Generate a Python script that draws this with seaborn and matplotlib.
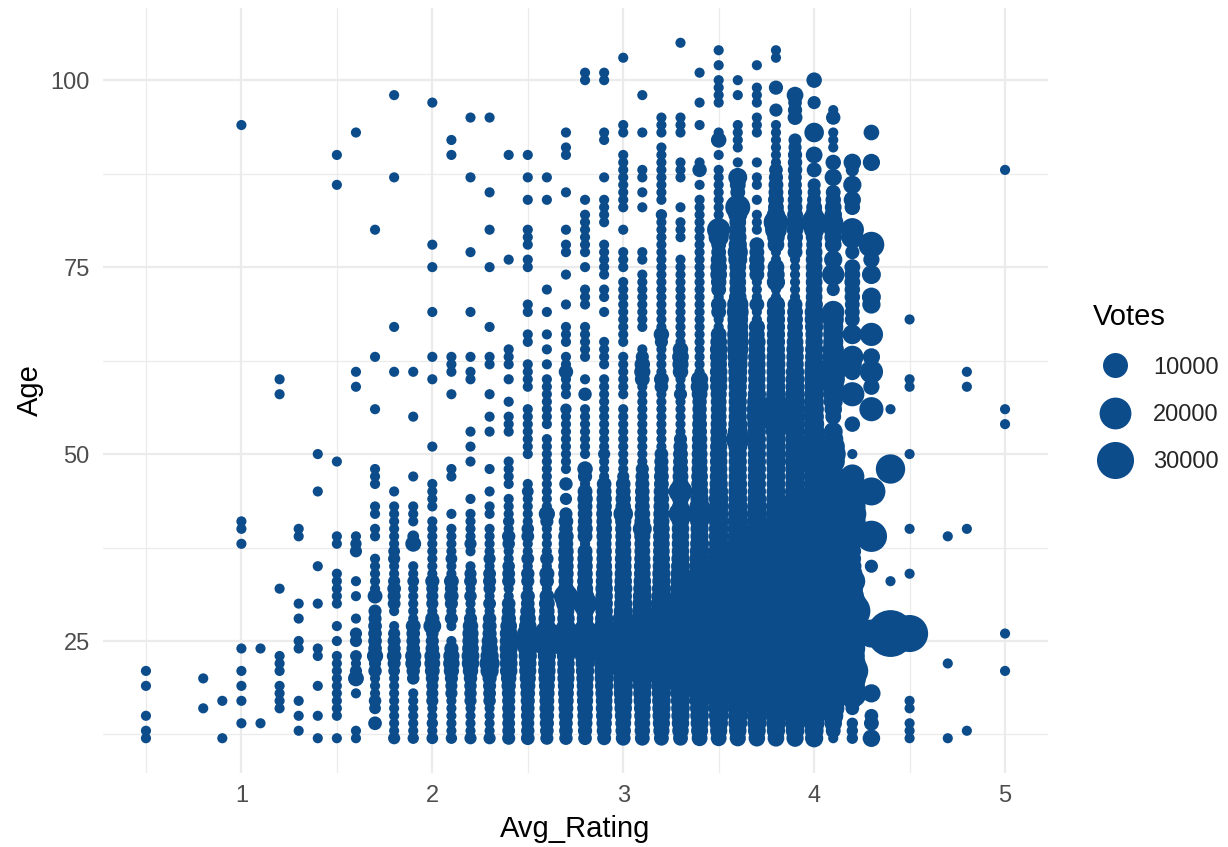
import pandas as pd
import seaborn as sns
from matplotlib import pyplot as plt
from matplotlib.lines import Line2D

# ages seen in each rating column, smallest dots
ages_r05 = [21, 19, 15, 13, 12]
ages_r08 = [20, 16]
ages_r09 = [17, 12]
ages_r10 = [94, 41, 40, 38, 24, 21, 19, 17, 14]
ages_r11 = [24, 14]
ages_r12 = [60, 58, 32, 23, 22, 21, 19, 18, 17, 16]
ages_r13 = [40, 39, 30, 28, 25, 24, 17, 15, 13]
ages_r14 = [50, 45, 35, 30, 24, 23, 19, 15, 12]
ages_r15 = [90, 86, 49, 39, 38, 34, 33, 32, 31, 30, 27, 25, 23, 22, 21, 20, 19, 18, 17, 16, 15, 12]
ages_r16 = [93, 61, 59, 39, 38, 37, 33, 31, 28, 26, 25, 23, 22, 21, 20, 18, 13, 12]
ages_r17 = [80, 63, 56, 48, 47, 46, 43, 42, 40, 39, 36, 35, 34, 33, 32, 31, 29, 28, 27, 26, 25, 24, 23,
            21, 20, 19, 18, 17, 16, 14]
ages_r18 = [98, 87, 67, 61, 45, 43, 42, 41, 40, 39, 38, 37, 36, 35, 34, 33, 32, 31, 30, 29, 27, 26, 25,
            24, 23, 22, 21, 20, 19, 18, 17, 16, 15, 14, 13, 12]
ages_r19 = [61, 55, 47, 43, 42, 41, 39, 38, 35, 34, 33, 32, 31, 30, 29, 28, 27, 26, 25, 24, 23, 22, 21,
            20, 18, 17, 16, 15, 14, 13, 12]
ages_r20 = [97, 78, 75, 69, 63, 60, 51, 46, 45, 44, 43, 41, 40, 39, 38, 37, 36, 35, 34, 33, 32, 31, 30,
            29, 28, 27, 26, 25, 24, 23, 22, 21, 20, 19, 18, 17, 16, 15, 14, 13, 12]
ages_r21 = [92, 90, 63, 62, 61, 58, 48, 47, 42, 40, 39, 38, 37, 36, 35, 34, 33, 32, 31, 30, 29, 28, 27,
            25, 24, 23, 22, 21, 20, 19, 18, 17, 16, 15, 14, 13, 12]
ages_r22 = [95, 87, 77, 69, 63, 61, 60, 53, 51, 49, 44, 42, 41, 40, 39, 38, 37, 35, 34, 33, 32, 31, 30,
            29, 28, 27, 26, 25, 24, 23, 22, 21, 20, 19, 18, 17, 16, 15, 14, 13, 12]
ages_r23 = [95, 85, 80, 75, 67, 63, 62, 58, 55, 53, 48, 45, 43, 42, 40, 39, 38, 37, 36, 35, 34, 33, 32,
            31, 30, 29, 28, 27, 26, 25, 24, 23, 22, 21, 20, 19, 18, 17, 16, 15, 14, 13, 12]
ages_r24 = [90, 76, 64, 63, 62, 60, 57, 55, 54, 53, 49, 48, 47, 46, 44, 43, 42, 41, 40, 39, 38, 37, 36,
            35, 34, 33, 32, 31, 30, 29, 28, 27, 26, 25, 24, 23, 22, 21, 20, 19, 18, 17, 16, 15, 14, 13, 12]
ages_r25 = [90, 87, 84, 80, 79, 78, 76, 75, 70, 69, 66, 65, 62, 61, 60, 59, 56, 55, 54, 53, 52, 51, 50,
            46, 45, 44, 43, 42, 41, 40, 39, 38, 37, 36, 35, 34, 33, 32, 31, 30, 29, 28, 27, 26, 25, 24,
            23, 22, 21, 20, 19, 18, 17, 16, 15, 14, 13, 12]
ages_r26 = [87, 84, 72, 69, 66, 64, 62, 60, 59, 58, 57, 56, 55, 54, 52, 51, 50, 49, 48, 47, 46, 45, 44,
            43, 42, 41, 40, 39, 38, 37, 36, 35, 34, 33, 32, 31, 30, 29, 28, 27, 26, 25, 24, 23, 22, 21,
            20, 19, 18, 17, 16, 15, 14, 13, 12]
ages_r27 = [93, 91, 90, 85, 80, 78, 77, 74, 70, 67, 66, 65, 63, 62, 61, 60, 59, 58, 56, 55, 54, 53, 52,
            51, 50, 49, 48, 46, 44, 42, 41, 40, 39, 38, 37, 36, 35, 34, 33, 32, 31, 30, 29, 28, 27, 26,
            25, 24, 23, 22, 21, 20, 19, 18, 17, 16, 15, 14, 13, 12]
ages_r28 = [101, 100, 84, 82, 81, 80, 79, 78, 77, 75, 72, 71, 70, 67, 66, 65, 64, 63, 60, 58, 56, 55, 54,
            53, 52, 51, 50, 48, 47, 46, 45, 44, 43, 42, 41, 40, 39, 38, 37, 36, 35, 34, 33, 32, 31, 30,
            29, 28, 27, 26, 25, 24, 23, 22, 21, 20, 19, 18, 17, 16, 15, 14, 13, 12]
ages_r29 = [101, 100, 93, 92, 87, 84, 83, 82, 81, 78, 77, 76, 75, 74, 72, 71, 69, 65, 64, 63, 62, 60, 59,
            58, 57, 56, 55, 54, 53, 52, 51, 50, 49, 48, 47, 46, 45, 44, 43, 42, 41, 40, 39, 38, 37, 36,
            35, 34, 33, 32, 31, 30, 29, 28, 27, 26, 25, 24, 23, 22, 21, 20, 19, 18, 17, 16, 15, 14, 13, 12]
ages_r30 = [103, 94, 93, 90, 89, 88, 87, 86, 85, 84, 83, 80, 77, 76, 75, 73, 72, 71, 70, 69, 68, 67, 66,
            65, 63, 62, 61, 60, 59, 58, 56, 55, 54, 53, 52, 51, 50, 49, 48, 47, 46, 45, 44, 43, 42, 41,
            40, 39, 38, 37, 36, 35, 34, 33, 32, 31, 30, 29, 28, 27, 26, 25, 24, 23, 22, 21, 20, 19, 18,
            17, 16, 15, 14, 13, 12]
ages_r31 = [98, 93, 88, 87, 85, 83, 77, 76, 74, 73, 72, 71, 70, 69, 68, 67, 64, 63, 62, 61, 60, 59, 58,
            57, 56, 55, 54, 53, 52, 51, 50, 49, 48, 47, 46, 45, 44, 43, 42, 41, 40, 39, 38, 37, 36, 35,
            34, 33, 32, 31, 30, 29, 28, 27, 26, 25, 24, 23, 22, 21, 20, 19, 18, 17, 16, 15, 14, 13, 12]
ages_r32 = [95, 94, 93, 91, 90, 89, 88, 87, 86, 85, 84, 82, 81, 80, 79, 78, 77, 76, 75, 74, 73, 72, 71,
            70, 69, 68, 67, 66, 65, 64, 63, 62, 61, 60, 59, 58, 57, 56, 55, 54, 53, 52, 51, 50, 49, 48,
            47, 46, 45, 44, 43, 42, 41, 40, 39, 38, 37, 36, 35, 34, 33, 32, 31, 30, 29, 28, 27, 26, 25,
            24, 23, 22, 21, 20, 19, 18, 17, 16, 15, 14, 13, 12]
ages_r33 = [105, 95, 94, 93, 89, 88, 87, 83, 81, 80, 79, 76, 75, 74, 73, 72, 71, 70, 69, 68, 67, 66, 65,
            64, 63, 62, 61, 60, 59, 58, 57, 56, 55, 54, 53, 52, 51, 50, 49, 48, 47, 46, 45, 44, 43, 42,
            41, 40, 39, 38, 37, 36, 35, 34, 33, 32, 31, 30, 29, 28, 27, 26, 25, 24, 23, 22, 21, 20, 19,
            18, 17, 16, 15, 14, 13, 12]
ages_r34 = [101, 97, 94, 89, 88, 86, 84, 83, 82, 81, 80, 79, 78, 77, 76, 75, 74, 73, 72, 71, 70, 69, 68,
            67, 66, 65, 64, 63, 62, 61, 60, 59, 58, 57, 56, 55, 54, 53, 52, 51, 50, 49, 48, 47, 46, 45,
            44, 43, 42, 41, 40, 39, 38, 37, 36, 35, 34, 33, 32, 31, 30, 29, 28, 27, 26, 25, 24, 23, 22,
            21, 20, 19, 18, 17, 16, 15, 14, 13, 12]
ages_r35 = [104, 102, 100, 99, 98, 97, 93, 92, 90, 88, 87, 86, 85, 84, 83, 82, 81, 80, 79, 78, 77, 76,
            75, 74, 73, 72, 71, 70, 69, 68, 67, 66, 65, 64, 63, 62, 61, 60, 59, 58, 57, 56, 55, 54, 53,
            52, 51, 50, 49, 48, 47, 46, 45, 44, 43, 42, 41, 40, 39, 38, 37, 36, 35, 34, 33, 32, 31, 30,
            29, 28, 27, 26, 25, 24, 23, 22, 21, 20, 19, 18, 17, 16, 15, 14, 13, 12]
ages_r36 = [100, 98, 94, 93, 92, 91, 89, 87, 86, 85, 84, 83, 82, 81, 80, 79, 78, 77, 76, 75, 74, 73, 72,
            71, 70, 69, 68, 67, 66, 65, 64, 63, 62, 61, 60, 59, 58, 57, 56, 55, 54, 53, 52, 51, 50, 49,
            48, 47, 46, 45, 44, 43, 42, 41, 40, 39, 38, 37, 36, 35, 34, 33, 32, 31, 30, 29, 28, 27, 26,
            25, 24, 23, 22, 21, 20, 19, 18, 17, 16, 15, 14, 13, 12]
ages_r37 = [102, 99, 98, 97, 95, 94, 93, 89, 87, 86, 84, 82, 81, 80, 78, 77, 76, 75, 74, 73, 72, 71, 70,
            69, 68, 67, 66, 65, 64, 63, 62, 61, 60, 59, 58, 57, 56, 55, 54, 53, 52, 51, 50, 49, 48, 47,
            46, 45, 44, 43, 42, 41, 40, 39, 38, 37, 36, 35, 34, 33, 32, 31, 30, 29, 28, 27, 26, 25, 24,
            23, 22, 21, 20, 19, 18, 17, 16, 15, 14, 13, 12]
ages_r38 = [104, 103, 99, 96, 94, 93, 92, 91, 90, 89, 88, 87, 86, 85, 84, 83, 82, 81, 80, 79, 78, 77, 76,
            75, 74, 73, 72, 71, 70, 69, 68, 67, 66, 65, 64, 63, 62, 61, 60, 59, 58, 57, 56, 55, 54, 53,
            52, 51, 50, 49, 48, 47, 46, 45, 44, 43, 42, 41, 40, 39, 38, 37, 36, 35, 34, 33, 32, 31, 30,
            29, 28, 27, 26, 25, 24, 23, 22, 21, 20, 19, 18, 17, 16, 15, 14, 13, 12]
ages_r39 = [98, 97, 96, 95, 92, 91, 90, 89, 88, 87, 86, 85, 84, 83, 82, 81, 80, 79, 78, 77, 76, 75, 74,
            73, 72, 71, 70, 69, 68, 67, 66, 65, 64, 63, 62, 61, 60, 59, 58, 57, 56, 55, 54, 53, 52, 51,
            50, 49, 48, 47, 46, 45, 44, 43, 42, 41, 40, 39, 38, 37, 36, 35, 34, 33, 32, 31, 30, 29, 28,
            27, 26, 25, 24, 23, 22, 21, 20, 19, 18, 17, 16, 15, 14, 13, 12]
ages_r40 = [100, 97, 93, 90, 88, 86, 85, 84, 83, 82, 81, 80, 79, 78, 77, 76, 75, 74, 73, 72, 71, 70, 69,
            68, 67, 66, 65, 64, 63, 62, 61, 60, 59, 58, 57, 56, 55, 54, 53, 52, 51, 50, 49, 48, 47, 46,
            45, 44, 43, 42, 41, 40, 39, 38, 37, 36, 35, 34, 33, 32, 31, 30, 29, 28, 27, 26, 25, 24, 23,
            22, 21, 20, 19, 18, 17, 16, 15, 14, 13, 12]
ages_r41 = [96, 95, 93, 92, 91, 89, 87, 85, 84, 83, 82, 81, 80, 79, 78, 76, 74, 72, 69, 68, 67, 66, 65,
            64, 63, 62, 61, 60, 59, 58, 57, 56, 55, 53, 52, 51, 50, 49, 47, 46, 45, 44, 43, 42, 41, 40,
            39, 38, 37, 36, 35, 34, 33, 32, 31, 30, 29, 28, 27, 26, 25, 24, 23, 22, 21, 20, 19, 18, 17,
            16, 15, 14, 13, 12]
ages_r42 = [89, 88, 86, 84, 83, 80, 79, 77, 75, 74, 73, 72, 71, 70, 69, 68, 66, 63, 62, 61, 58, 54, 50,
            47, 46, 45, 44, 43, 42, 41, 40, 39, 38, 37, 36, 35, 34, 33, 32, 31, 30, 29, 28, 27, 26, 25,
            24, 23, 22, 21, 20, 19, 18, 17, 16, 14, 13, 12]
ages_r43 = [93, 89, 78, 76, 74, 71, 70, 66, 63, 61, 59, 56, 45, 39, 35, 26, 18, 15, 14, 12]
ages_r44 = [56, 48, 33, 26]
ages_r45 = [68, 60, 59, 50, 40, 34, 26, 17, 16, 14, 13, 12]
ages_r47 = [39, 22, 12]
ages_r48 = [61, 59, 40, 13]
ages_r50 = [88, 56, 54, 26, 21]

# (age, votes) for the dots that are clearly bigger than the smallest ones
big_r16 = [(38, 300), (37, 500), (20, 2000), (26, 500), (25, 500), (23, 400), (21, 500)]
big_r17 = [(31, 1500), (29, 800), (28, 800), (27, 1000), (26, 1000), (25, 1000), (24, 1000), (23, 2200), (22, 500),
           (21, 900), (17, 600), (16, 400), (14, 1000)]
big_r18 = [(37, 400), (36, 500), (33, 500), (32, 1000), (31, 800), (30, 700), (26, 500), (25, 800), (24, 800),
           (23, 1400), (22, 800), (21, 400), (12, 500)]
big_r19 = [(38, 2000), (39, 400), (33, 400), (27, 1500), (26, 1000), (25, 1000), (24, 1000), (23, 2200), (22, 2000),
           (21, 900), (20, 600), (12, 300)]
big_r20 = [(33, 1200), (32, 500), (31, 500), (30, 500), (28, 1200), (27, 3200), (26, 600), (25, 800), (24, 1000),
           (23, 2000), (22, 2000), (21, 1500), (20, 800), (19, 500), (18, 500), (17, 500), (14, 300), (12, 400)]
big_r21 = [(36, 400), (33, 1500), (32, 800), (31, 1300), (30, 800), (28, 800), (24, 1200), (23, 2200), (22, 2400),
           (21, 1700), (20, 800), (19, 500), (18, 500), (12, 300)]
big_r22 = [(38, 500), (34, 500), (33, 700), (31, 600), (28, 800), (27, 1800), (26, 2200), (25, 2200), (24, 2500),
           (23, 3200), (22, 3000), (21, 1800), (20, 900), (19, 600), (18, 600), (17, 500), (12, 500)]
big_r23 = [(36, 500), (34, 700), (33, 800), (32, 500), (30, 700), (28, 900), (27, 1200), (26, 1200), (25, 2000),
           (24, 2500), (23, 3500), (22, 5000), (21, 3500), (20, 1200), (19, 800), (18, 700), (17, 600), (12, 500)]
big_r24 = [(41, 300), (39, 900), (38, 600), (35, 600), (34, 700), (33, 800), (30, 1000), (29, 1000), (28, 1400),
           (27, 2500), (26, 3200), (25, 3200), (24, 3500), (23, 3200), (22, 3200), (21, 3000), (20, 1800), (19, 1300),
           (18, 1000), (17, 800), (16, 800), (15, 700), (14, 700), (13, 700), (12, 800)]
big_r25 = [(45, 400), (40, 600), (39, 700), (36, 700), (34, 900), (33, 800), (31, 1200), (30, 1000), (29, 1600),
           (28, 2200), (27, 3000), (26, 6000), (25, 11000), (24, 4500), (23, 3500), (22, 3000), (21, 2800),
           (20, 2200), (19, 1700), (18, 1400), (17, 1200), (16, 1000), (15, 1000), (14, 800), (13, 900), (12, 1000)]
big_r26 = [(42, 2200), (41, 800), (36, 900), (34, 1600), (33, 1200), (31, 1400), (30, 2000), (29, 1800), (28, 2500),
           (27, 2500), (26, 10000), (25, 17000), (24, 5000), (23, 3500), (22, 3000), (21, 3000), (20, 2500),
           (19, 2000), (18, 1800), (17, 1500), (16, 1500), (15, 1300), (14, 1200), (13, 1000), (12, 800)]
big_r27 = [(61, 1300), (56, 300), (46, 900), (44, 500), (42, 800), (41, 1400), (40, 1000), (39, 1800), (38, 1400),
           (37, 1800), (36, 1800), (35, 1800), (34, 1800), (33, 1500), (32, 2000), (31, 9000), (30, 4500), (29, 2500),
           (28, 3000), (27, 3500), (26, 11000), (25, 20000), (24, 6000), (23, 3500), (22, 3000), (21, 3000),
           (20, 2800), (19, 2200), (18, 2000), (17, 1800), (16, 1500), (15, 1300), (14, 1000), (13, 1000), (12, 900)]
big_r28 = [(58, 900), (48, 1800), (47, 1200), (45, 1500), (44, 1800), (43, 1500), (42, 1400), (41, 1300), (40, 1800),
           (39, 1500), (37, 1500), (36, 1800), (35, 1800), (34, 1800), (33, 2000), (32, 2200), (31, 3500), (30, 9500),
           (29, 3000), (28, 2500), (27, 3500), (26, 12000), (25, 22000), (24, 7000), (23, 5000), (22, 4000), (21, 3500),
           (20, 3000), (19, 2500), (18, 2500), (17, 2200), (16, 2000), (15, 1800), (14, 1500), (13, 1200), (12, 1000)]
big_r29 = [(50, 500), (46, 1400), (45, 1500), (44, 1800), (43, 1800), (42, 2000), (41, 1800), (40, 2000), (39, 1800),
           (38, 1500), (37, 1800), (36, 1800), (35, 2000), (34, 2500), (33, 2500), (32, 3000), (31, 3000), (30, 3000),
           (29, 3000), (28, 3500), (27, 4500), (26, 12000), (25, 22000), (24, 9000), (23, 7000), (22, 5000), (21, 4500),
           (20, 4000), (19, 3500), (18, 3000), (17, 2500), (16, 2500), (15, 2200), (14, 1800), (13, 1500), (12, 1100)]
big_r30 = [(47, 500), (46, 1400), (45, 1500), (44, 1800), (43, 1800), (42, 4500), (41, 2200), (40, 2200), (39, 2000),
           (38, 2000), (37, 2200), (36, 2500), (35, 2500), (34, 2800), (33, 3000), (32, 3500), (31, 3000), (30, 3500),
           (29, 4000), (28, 5500), (27, 7000), (26, 14000), (25, 24000), (24, 11000), (23, 8000), (22, 7000), (21, 6000),
           (20, 5000), (19, 4500), (18, 4000), (17, 3500), (16, 3000), (15, 2500), (14, 2000), (13, 1800), (12, 1500)]
big_r31 = [(63, 800), (62, 1800), (61, 2200), (60, 1500), (48, 800), (47, 1000), (46, 1200), (45, 1400), (44, 1400),
           (43, 1500), (42, 2000), (41, 2000), (40, 4000), (39, 2200), (38, 2000), (37, 2000), (36, 2200), (35, 2500),
           (34, 2500), (33, 3000), (32, 3500), (31, 4000), (30, 4500), (29, 5000), (28, 6000), (27, 7000), (26, 15000),
           (25, 24000), (24, 11000), (23, 8000), (22, 7000), (21, 6000), (20, 5000), (19, 4000), (18, 3500), (17, 3000),
           (16, 2500), (15, 2200), (14, 2000), (13, 1800), (12, 1500)]
big_r32 = [(82, 300), (66, 1800), (65, 800), (60, 1500), (59, 1000), (50, 1000), (49, 1200), (48, 1200), (47, 1500),
           (46, 1500), (45, 1800), (44, 1800), (43, 2000), (42, 2200), (41, 2200), (40, 2500), (39, 2500), (38, 2500),
           (37, 2500), (36, 2800), (35, 3000), (34, 3500), (33, 3500), (32, 4000), (31, 4500), (30, 5500), (29, 6000),
           (28, 7000), (27, 9000), (26, 17000), (25, 28000), (24, 13000), (23, 10000), (22, 8000), (21, 7000),
           (20, 6000), (19, 5000), (18, 4200), (17, 3800), (16, 3500), (15, 3200), (14, 2800), (13, 2200), (12, 1500)]
big_r33 = [(64, 1800), (63, 2500), (62, 2200), (61, 1800), (58, 800), (52, 800), (51, 1200), (50, 1500), (49, 1500),
           (48, 1800), (47, 2000), (46, 2200), (45, 8500), (44, 2500), (43, 2500), (42, 8500), (41, 3000), (40, 3000),
           (39, 3000), (38, 3000), (37, 3000), (36, 3500), (35, 4000), (34, 4500), (33, 5000), (32, 5500), (31, 6000),
           (30, 7000), (29, 8000), (28, 9000), (27, 11000), (26, 18000), (25, 30000), (24, 16000), (23, 12000),
           (22, 10000), (21, 9000), (20, 7000), (19, 5500), (18, 4800), (17, 4200), (16, 3800), (15, 3500), (14, 3000),
           (13, 2400), (12, 1500)]
big_r34 = [(88, 1300), (60, 2800), (59, 3200), (58, 2000), (57, 1300), (56, 1300), (55, 1300), (54, 1500), (53, 1500),
           (52, 1800), (51, 1800), (50, 2000), (49, 2000), (48, 2200), (47, 2500), (46, 2500), (45, 3000), (44, 3500),
           (43, 5000), (42, 9000), (41, 4000), (40, 3500), (39, 3500), (38, 4000), (37, 4500), (36, 5000), (35, 5500),
           (34, 6000), (33, 6500), (32, 7000), (31, 8000), (30, 9000), (29, 10000), (28, 11000), (27, 13000), (26, 20000),
           (25, 30000), (24, 17000), (23, 13000), (22, 11000), (21, 10000), (20, 8000), (19, 6500), (18, 5500),
           (17, 4800), (16, 4200), (15, 3800), (14, 3300), (13, 2700), (12, 2000)]
big_r35 = [(92, 1800), (80, 8000), (79, 5000), (78, 1500), (77, 1500), (76, 2000), (75, 2500), (74, 2500), (73, 1800),
           (72, 1500), (70, 1800), (69, 1500), (66, 2000), (65, 2500), (64, 3000), (63, 3000), (62, 2500), (61, 3000),
           (60, 3000), (59, 2800), (58, 2200), (57, 2000), (56, 2000), (55, 2000), (54, 2200), (53, 2500), (52, 2500),
           (51, 2800), (50, 3000), (49, 3000), (48, 3000), (47, 3200), (46, 3500), (45, 4000), (44, 4500), (43, 4500),
           (42, 4500), (41, 4500), (40, 4500), (39, 4500), (38, 4500), (37, 5000), (36, 5500), (35, 6000), (34, 7000),
           (33, 8000), (32, 9000), (31, 10000), (30, 12000), (29, 13000), (28, 14000), (27, 16000), (26, 22000),
           (25, 32000), (24, 20000), (23, 16000), (22, 14000), (21, 12000), (20, 10000), (19, 7500), (18, 6500),
           (17, 5500), (16, 5000), (15, 4500), (14, 3800), (13, 2800), (12, 2000)]
big_r36 = [(87, 4000), (86, 2000), (85, 1500), (83, 10000), (82, 4000), (81, 2500), (80, 2500), (79, 3000), (78, 3500),
           (77, 5000), (76, 4000), (75, 2500), (74, 2500), (73, 2500), (72, 2500), (71, 3000), (70, 6000), (69, 6500),
           (68, 5500), (67, 5500), (66, 6000), (65, 6000), (64, 6000), (63, 5000), (62, 4500), (61, 4000), (60, 4000),
           (59, 3500), (58, 3500), (57, 3500), (56, 3500), (55, 3500), (54, 4000), (53, 5000), (52, 8500), (51, 4000),
           (50, 3500), (49, 3500), (48, 3500), (47, 3500), (46, 3800), (45, 4000), (44, 4000), (43, 4500), (42, 4500),
           (41, 5000), (40, 5000), (39, 5000), (38, 5500), (37, 6000), (36, 7000), (35, 8000), (34, 9000),
           (33, 10000), (32, 11000), (31, 13000), (30, 15000), (29, 17000), (28, 20000), (27, 23000), (26, 28000),
           (25, 33000), (24, 24000), (23, 20000), (22, 17000), (21, 14000), (20, 11000), (19, 7500), (18, 6500),
           (17, 5500), (16, 5000), (15, 4500), (14, 4000), (13, 3000), (12, 2200)]
big_r37 = [(78, 1500), (77, 1500), (76, 1800), (75, 1800), (74, 1500), (70, 1500), (67, 2200), (66, 2000), (65, 3000),
           (64, 2500), (63, 3000), (62, 3000), (61, 3000), (60, 3000), (59, 3000), (58, 3500), (57, 4500), (56, 5000),
           (55, 5000), (54, 4500), (53, 3500), (52, 3500), (51, 3500), (50, 3500), (49, 3500), (48, 3500), (47, 3500),
           (46, 3500), (45, 3500), (44, 4000), (43, 4500), (42, 5000), (41, 5000), (40, 5500), (39, 5500),
           (38, 6000), (37, 6500), (36, 7000), (35, 8000), (34, 9000), (33, 10000), (32, 12000), (31, 14000),
           (30, 16000), (29, 19000), (28, 22000), (27, 25000), (26, 30000), (25, 33000), (24, 26000), (23, 22000),
           (22, 19000), (21, 16000), (20, 12000), (19, 8000), (18, 7000), (17, 6000), (16, 5500), (15, 5000),
           (14, 4200), (13, 3200), (12, 2400)]
big_r38 = [(99, 1200), (96, 800), (88, 1000), (87, 1200), (86, 1500), (85, 1500), (84, 2000), (83, 2000), (82, 3500),
           (81, 9500), (80, 6500), (79, 3000), (78, 2500), (75, 2500), (74, 3000), (73, 3500), (70, 3500), (69, 3500),
           (68, 3500), (67, 3500), (66, 3500), (65, 3500), (64, 3500), (63, 4000), (62, 4000), (61, 4000), (60, 4000),
           (59, 4000), (58, 4500), (57, 6000), (56, 8000), (55, 8000), (54, 7000), (53, 5000), (52, 4500), (51, 4500),
           (50, 4500), (49, 4500), (48, 4000), (47, 4000), (46, 4000), (45, 4000), (44, 4500), (43, 5000),
           (42, 5000), (41, 5500), (40, 6000), (39, 6000), (38, 6500), (37, 7000), (36, 8000), (35, 9000),
           (34, 11000), (33, 13000), (32, 15000), (31, 17000), (30, 20000), (29, 23000), (28, 26000), (27, 30000),
           (26, 33000), (25, 35000), (24, 28000), (23, 24000), (22, 20000), (21, 17000), (20, 13000), (19, 9000),
           (18, 7500), (17, 6500), (16, 6000), (15, 5500), (14, 4500), (13, 3500), (12, 2500)]
big_r39 = [(98, 2500), (97, 1000), (96, 1200), (95, 1500), (92, 800), (91, 800), (90, 1200), (89, 1300), (88, 1300),
           (87, 1000), (86, 1000), (85, 1200), (84, 1400), (83, 1500), (82, 2000), (81, 3000), (80, 2500), (79, 2000),
           (78, 1500), (77, 1500), (70, 1500), (69, 2000), (68, 2000), (67, 2000), (66, 2000), (65, 2500), (64, 3000),
           (63, 3000), (62, 3000), (61, 3500), (60, 4000), (59, 4000), (58, 4500), (57, 5000), (56, 5500), (55, 5500),
           (54, 5000), (53, 4500), (52, 4500), (51, 4500), (50, 5000), (49, 5000), (48, 4500), (47, 4500),
           (46, 4500), (45, 5000), (44, 5500), (43, 6000), (42, 6500), (41, 7000), (40, 7000), (39, 7500),
           (38, 8000), (37, 9000), (36, 10000), (35, 12000), (34, 14000), (33, 16000), (32, 18000), (31, 20000),
           (30, 23000), (29, 25000), (28, 28000), (27, 32000), (26, 34000), (25, 34000), (24, 28000), (23, 24000),
           (22, 21000), (21, 18000), (20, 14000), (19, 9500), (18, 8000), (17, 7000), (16, 6500), (15, 6000), (14, 5000),
           (13, 3800), (12, 2800)]
big_r40 = [(100, 1800), (97, 800), (93, 4500), (90, 2500), (88, 1500), (86, 800), (85, 800), (84, 1200), (83, 2000),
           (82, 3500), (81, 11000), (80, 5000), (79, 2500), (78, 2000), (77, 2500), (76, 2500), (75, 2500), (74, 2500),
           (73, 2500), (72, 2500), (71, 2500), (70, 3000), (69, 4000), (68, 4000), (67, 3500), (66, 3000), (65, 3000),
           (64, 3500), (63, 3500), (62, 4000), (61, 4500), (60, 4500), (59, 4500), (58, 4500), (57, 4500), (56, 4500),
           (55, 4500), (54, 5000), (53, 5500), (52, 6000), (51, 9000), (50, 9500), (49, 7000), (48, 5500), (47, 5500),
           (46, 5500), (45, 6000), (44, 6500), (43, 7000), (42, 8000), (41, 8000), (40, 8000), (39, 9000),
           (38, 10000), (37, 11000), (36, 12000), (35, 14000), (34, 16000), (33, 18000), (32, 20000), (31, 23000),
           (30, 26000), (29, 30000), (28, 33000), (27, 34000), (26, 34000), (25, 33000), (24, 30000), (23, 26000),
           (22, 23000), (21, 20000), (20, 16000), (19, 10000), (18, 8000), (17, 7000), (16, 6500), (15, 6000),
           (14, 5500), (13, 4000), (12, 3500)]
big_r41 = [(95, 1300), (89, 1800), (87, 2800), (85, 1500), (84, 1800), (83, 2500), (82, 3000), (81, 5000), (80, 4000),
           (79, 3000), (78, 2500), (76, 3500), (74, 7000), (72, 800), (69, 7000), (68, 6000), (67, 5000), (66, 5000),
           (65, 5000), (64, 6000), (63, 6000), (62, 7000), (61, 10000), (60, 8000), (59, 6000), (58, 5000), (57, 4000),
           (56, 3000), (55, 2000), (53, 4000), (52, 5000), (51, 8000), (50, 10000), (49, 8000), (47, 9000), (46, 10000),
           (45, 11000), (44, 12000), (43, 13000), (42, 14000), (41, 13000), (40, 12000), (39, 11000), (38, 11000),
           (37, 12000), (36, 13000), (35, 14000), (34, 16000), (33, 18000), (32, 20000), (31, 22000), (30, 24000),
           (29, 28000), (28, 29000), (27, 30000), (26, 32000), (25, 30000), (24, 27000), (23, 25000), (22, 22000),
           (21, 20000), (20, 16000), (19, 12000), (18, 10000), (17, 8000), (16, 7000), (15, 5000), (14, 3000), (13, 1500)]
big_r42 = [(89, 3000), (88, 800), (86, 3500), (84, 2800), (83, 1800), (80, 8000), (79, 7000), (77, 1200), (75, 2000),
           (74, 2000), (73, 2000), (72, 1800), (71, 1800), (70, 1500), (69, 1500), (68, 1500), (66, 4500), (63, 7000),
           (62, 4000), (61, 2500), (58, 9000), (54, 1800), (47, 9000), (46, 5000), (45, 7000), (44, 10000), (43, 12000),
           (42, 14000), (41, 12000), (40, 8000), (39, 4000), (38, 3000), (37, 3000), (36, 3000), (35, 3500), (34, 5000),
           (33, 11000), (32, 6000), (31, 8000), (30, 14000), (29, 28000), (28, 20000), (27, 16000), (26, 14000),
           (25, 12000), (24, 11000), (23, 10000), (22, 12000), (21, 20000), (20, 13000), (19, 10000), (18, 15000),
           (17, 3000), (16, 1000), (14, 300), (13, 300), (12, 300)]
big_r43 = [(93, 1900), (89, 2800), (78, 11000), (76, 2200), (74, 4000), (71, 4000), (70, 3500), (66, 8000), (63, 2800),
           (61, 8000), (59, 2200), (56, 9000), (45, 14000), (39, 19000), (35, 800), (26, 14000), (18, 3500), (15, 1000),
           (14, 1500), (12, 3000)]
big_r44 = [(48, 16000), (26, 54000)]
big_r45 = [(26, 30000)]

ratings = [0.5, 0.8, 0.9, 1.0, 1.1, 1.2, 1.3, 1.4, 1.5, 1.6, 1.7, 1.8, 1.9, 2.0, 2.1, 2.2, 2.3, 2.4, 2.5, 2.6, 2.7, 2.8,
           2.9, 3.0, 3.1, 3.2, 3.3, 3.4, 3.5, 3.6, 3.7, 3.8, 3.9, 4.0, 4.1, 4.2, 4.3, 4.4, 4.5, 4.7, 4.8, 5.0]
small_ages = [ages_r05, ages_r08, ages_r09, ages_r10, ages_r11, ages_r12, ages_r13, ages_r14, ages_r15, ages_r16,
              ages_r17, ages_r18, ages_r19, ages_r20, ages_r21, ages_r22, ages_r23, ages_r24, ages_r25, ages_r26,
              ages_r27, ages_r28, ages_r29, ages_r30, ages_r31, ages_r32, ages_r33, ages_r34, ages_r35, ages_r36,
              ages_r37, ages_r38, ages_r39, ages_r40, ages_r41, ages_r42, ages_r43, ages_r44, ages_r45, ages_r47,
              ages_r48, ages_r50]
big_ratings = [1.6, 1.7, 1.8, 1.9, 2.0, 2.1, 2.2, 2.3, 2.4, 2.5, 2.6, 2.7, 2.8, 2.9, 3.0, 3.1, 3.2, 3.3, 3.4, 3.5, 3.6,
               3.7, 3.8, 3.9, 4.0, 4.1, 4.2, 4.3, 4.4, 4.5]
big_points = [big_r16, big_r17, big_r18, big_r19, big_r20, big_r21, big_r22, big_r23, big_r24, big_r25, big_r26,
              big_r27, big_r28, big_r29, big_r30, big_r31, big_r32, big_r33, big_r34, big_r35, big_r36, big_r37,
              big_r38, big_r39, big_r40, big_r41, big_r42, big_r43, big_r44, big_r45]
small_votes = 100
legend_votes = [10000, 20000, 30000]

rows = []
for r, ages in zip(ratings, small_ages):
    for a in ages:
        rows.append((r, a, small_votes))
for r, pts in zip(big_ratings, big_points):
    for a, v in pts:
        rows.append((r, a, v))
data = pd.DataFrame(rows, columns=["Avg_Rating", "Age", "Votes"])


# dot diameter in pixels, as ggplot's sqrt area scale
def dot_px(votes):
    return 8.5 + 0.165 * votes ** 0.5


def dot_pt(votes):
    return dot_px(votes) * 0.72


dot_color = "#0C4C8A"
sns.set_style("white")
plt.rcParams['font.family'] = ['Liberation Sans', 'DejaVu Sans']

fig = plt.figure(figsize=(12.28, 8.47), dpi=100)
ax = fig.add_axes([103 / 1228, 74 / 847, 945 / 1228, 765 / 847])

sizes = {v: dot_pt(v) ** 2 for v in data.Votes.unique()}
sns.scatterplot(ax=ax, data=data, x="Avg_Rating", y="Age", size="Votes", sizes=sizes,
                color=dot_color, linewidth=0, alpha=1, legend=False, zorder=3, clip_on=False)

ax.set_xlim(0.275, 5.225)
ax.set_ylim(7.35, 109.65)
ax.set_xticks([1, 2, 3, 4, 5])
ax.set_yticks([25, 50, 75, 100])
ax.set_xticks([0.5, 1.5, 2.5, 3.5, 4.5], minor=True)
ax.set_yticks([12.5, 37.5, 62.5, 87.5], minor=True)
ax.grid(True, which="major", color="#EBEBEB", linewidth=1.6)
ax.grid(True, which="minor", color="#EBEBEB", linewidth=0.9)
ax.set_axisbelow(True)
sns.despine(ax=ax, left=True, bottom=True)
ax.tick_params(which="both", length=0)
ax.tick_params(axis="both", labelsize=17, labelcolor="#4D4D4D")
ax.tick_params(axis="x", pad=8.5)
ax.tick_params(axis="y", pad=9.5)
ax.set_xlabel("Avg_Rating", fontsize=21, color="black", labelpad=6)
ax.set_ylabel("Age", fontsize=21, color="black", labelpad=5)

handles = [Line2D([], [], linestyle="", marker="o", color=dot_color, markeredgewidth=0,
                  markersize=dot_pt(v)) for v in legend_votes]
leg = fig.legend(handles, [str(v) for v in legend_votes], title="Votes", frameon=False,
                 loc="upper left", bbox_to_anchor=(1093 / 1228, 1 - 303 / 847), borderaxespad=0, borderpad=0,
                 fontsize=17, title_fontsize=21, alignment="left", labelspacing=1.08,
                 handletextpad=0.65, handlelength=1.89)
leg.get_title().set_color("black")

fig.savefig("out.png", dpi=100)
